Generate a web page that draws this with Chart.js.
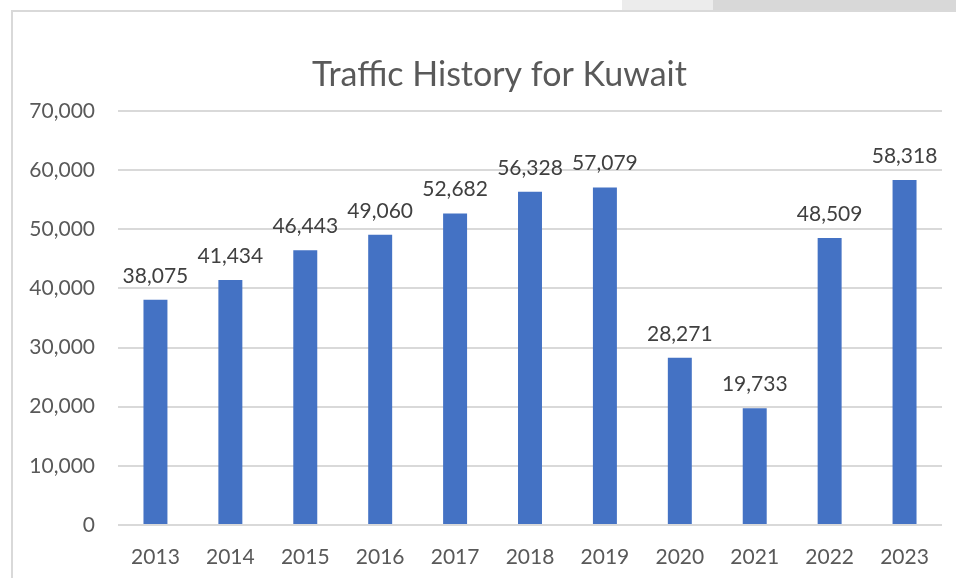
<!DOCTYPE html>
<html>
<head>
<meta charset="utf-8">
<script src="https://cdn.jsdelivr.net/npm/chart.js@4"></script>
<style>
  body { margin: 0; background: #fff; overflow: hidden; }
  #frame { position: absolute; left: 11px; top: 10px; width: 960px; height: 580px;
           border-left: 2px solid #d9d9d9; border-top: 2px solid #d9d9d9; }
  #strip { position: absolute; left: 713px; top: 0; width: 243px; height: 10px; background: #d8d8d8; }
  #strip2 { position: absolute; left: 622px; top: 0; width: 91px; height: 10px; background: #ececec; }
  #chart1 { position: absolute; left: 0; top: 0; }
</style>
</head>
<body>
<div id="strip2"></div>
<div id="strip"></div>
<div id="frame"></div>
<canvas id="chart1" width="956" height="578"></canvas>
<script>
var years = ["2013", "2014", "2015", "2016", "2017", "2018", "2019", "2020", "2021", "2022", "2023"];
var traffic = [38075, 41434, 46443, 49060, 52682, 56328, 57079, 28271, 19733, 48509, 58318];
var yTicks = [0, 10000, 20000, 30000, 40000, 50000, 60000, 70000];
var chartTitle = "Traffic History for Kuwait";

// titre + étiquettes de valeurs au-dessus des barres (pas de plugin datalabels dispo)
var excelLook = {
    id: "excelLook",
    afterDatasetsDraw: function(chart) {
        var ctx = chart.ctx;
        ctx.save();
        ctx.font = "21px Lato";
        ctx.fillStyle = "#404040";
        ctx.textAlign = "center";
        ctx.textBaseline = "alphabetic";
        chart.getDatasetMeta(0).data.forEach(function(bar, i) {
            ctx.fillText(traffic[i].toLocaleString("en-US"), bar.x, bar.y - 17);
        });
        ctx.font = "34px Lato";
        ctx.fillStyle = "#595959";
        ctx.fillText(chartTitle, 499.5, 86);
        ctx.restore();
    }
};

var ctx = document.getElementById("chart1").getContext("2d");
var chart = new Chart(ctx, {
    type: "bar",
    data: {
        labels: years,
        datasets: [{
            data: traffic,
            backgroundColor: "#4472C4",
            borderWidth: 0,
            categoryPercentage: 1,
            barPercentage: 0.32
        }]
    },
    options: {
        responsive: false,
        animation: false,
        locale: "en-US",
        layout: { padding: { top: 111, right: 14, bottom: 0, left: 0 } },
        plugins: {
            legend: { display: false },
            title: { display: false },
            tooltip: { enabled: false }
        },
        scales: {
            x: {
                afterFit: function(scale) { scale.height = 53; },
                grid: { display: false, drawTicks: false },
                border: { display: false },
                ticks: { color: "#595959", font: { family: "Lato", size: 21 }, padding: 20, maxRotation: 0 }
            },
            y: {
                min: 0,
                max: 70000,
                afterFit: function(scale) { scale.width = 118; },
                afterBuildTicks: function(scale) {
                    scale.ticks = yTicks.map(function(v) { return { value: v }; });
                },
                grid: { color: "#d9d9d9", lineWidth: 2, drawTicks: false },
                border: { display: false },
                ticks: {
                    color: "#595959",
                    font: { family: "Lato", size: 21 },
                    padding: 23,
                    callback: function(v) { return v.toLocaleString("en-US"); }
                }
            }
        }
    },
    plugins: [excelLook]
});
</script>
</body>
</html>
